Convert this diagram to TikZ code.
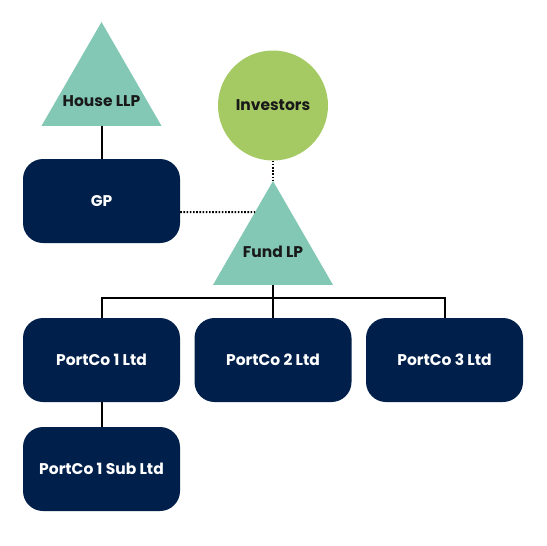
\documentclass[tikz,border=0pt]{standalone}
\usepackage{fontspec}
\setmainfont{Poppins}
\usetikzlibrary{shapes.geometric}
\definecolor{navybox}{RGB}{1,31,75}
\definecolor{tealtri}{RGB}{130,200,180}
\definecolor{greenball}{RGB}{165,201,99}
\newcommand{\boxfont}{\bfseries\fontsize{15.5}{18}\selectfont}

\begin{document}
\begin{tikzpicture}[x=1pt,y=-1pt]
\useasboundingbox (0,0) rectangle (546,546);
\tikzstyle{company}=[fill=navybox,
                     rounded corners=20pt,
                     minimum width=157pt,
                     minimum height=84pt,
                     inner sep=0pt,
                     text=white,
                     font=\boxfont
                     ]
\tikzstyle{entity}=[regular polygon,
                    regular polygon sides=3,
                    fill=tealtri,
                    minimum size=138.6pt,
                    inner sep=0pt,
                    outer sep=0pt
                    ]
\tikzstyle{investor}=[circle, fill=greenball, minimum size=110pt, inner sep=0pt, outer sep=0pt, text=black!90, font=\boxfont]
\tikzstyle{entitytext}=[inner sep=0pt, text=black!90, font=\boxfont]
\tikzstyle{link}=[line width=2pt, black]
\tikzstyle{linkdot}=[line width=2pt, black, dash pattern=on 1.6pt off 1.6pt]
% top of the structure
\node[entity] (house) at (101.5,91.3) {};
\node[entitytext] (houselbl) at (101.5,101) {House LLP};
\node[company] (gp) at (101.5,201) {GP};
\node[investor] (inv) at (273,105.5) {Investors};
\node[entity] (fund) at (273,250.3) {};
\node[entitytext] (fundlbl) at (273,252) {Fund LP};
% portfolio companies
\node[company] (p1) at (101.5,360) {PortCo 1 Ltd};
\node[company] (p2) at (273,360) {PortCo 2 Ltd};
\node[company] (p3) at (444.5,360) {PortCo 3 Ltd};
\node[company] (p1sub) at (101.5,469) {PortCo 1 Sub Ltd};
% connectors
\coordinate (gpdot) at ([yshift=-11pt]gp.east);
\coordinate (gpdotw) at ([yshift=-11pt]gp.west);
\coordinate (bus) at (273,298);
\draw[link] (house.south) -- (gp.north);
\draw[linkdot] (inv.south) -- (fund.north);
\draw[linkdot] (gpdot) -- (intersection of gpdot--gpdotw and fund.corner 1--fund.corner 2);
\draw[link] (fund.south) -- (p2.north);
\draw[link] (p1.north) |- (bus) -| (p3.north);
\draw[link] (p1.south) -- (p1sub.north);
\end{tikzpicture}
\end{document}
